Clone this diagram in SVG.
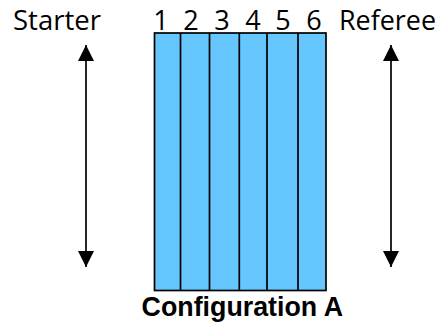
<svg xmlns="http://www.w3.org/2000/svg" width="437" height="324" viewBox="0 0 437 324">
<style>
.t{font-family:"Open Sans","Noto Sans",sans-serif;font-size:27.5px;fill:#000}
.n{text-anchor:middle;font-size:27px}
.c{font-family:"Liberation Sans",Arial,sans-serif;font-weight:bold;font-size:26.8px;fill:#000;text-anchor:middle}
.l{stroke:#000;stroke-width:1.7;fill:none}
.d{stroke:#000;stroke-width:1.7}
</style>
<defs>
<marker id="a" markerUnits="userSpaceOnUse" markerWidth="16" markerHeight="16" refX="16" refY="8" orient="auto-start-reverse" viewBox="0 0 16 16"><path d="M0 0L16 8L0 16Z" fill="#000"/></marker>
</defs>
<g id="block">
<rect x="154.500" y="33" width="171.500" height="257.500" fill="#66c7ff" stroke="#000" stroke-width="1.7"/>
<path class="d" d="M180.500 33V291M209.500 33V291M239.300 33V291M267 33V291M298 33V291"/>
</g>
<g id="connectors">
<line class="l" x1="86" y1="45" x2="86" y2="267" marker-start="url(#a)" marker-end="url(#a)"/>
<line class="l" x1="391" y1="45" x2="391" y2="267" marker-start="url(#a)" marker-end="url(#a)"/>
</g>
<g id="labels">
<text class="t" x="13" y="30" textLength="88" lengthAdjust="spacingAndGlyphs">Starter</text>
<text class="t" x="339" y="30" textLength="97" lengthAdjust="spacingAndGlyphs">Referee</text>
<text class="t n" x="161" y="30">1</text>
<text class="t n" x="191" y="30">2</text>
<text class="t n" x="222" y="30">3</text>
<text class="t n" x="253" y="30">4</text>
<text class="t n" x="283" y="30">5</text>
<text class="t n" x="314" y="30">6</text>
<text class="c" x="242.300" y="316.300">Configuration A</text>
</g>
</svg>
